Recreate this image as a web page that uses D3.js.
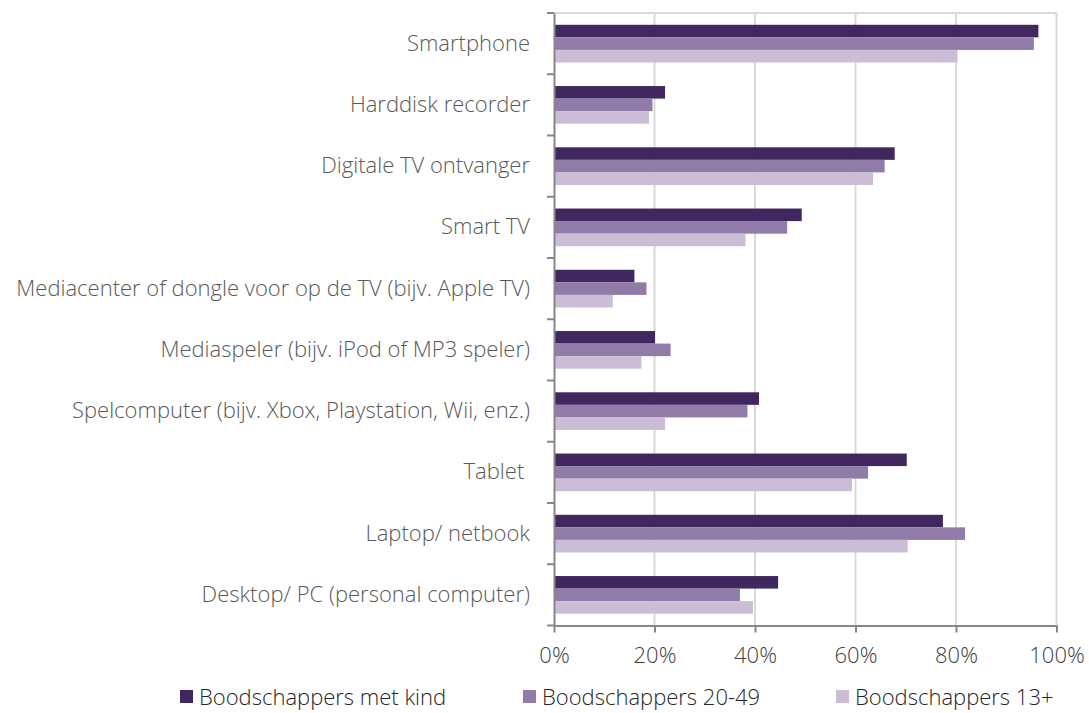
<!DOCTYPE html>
<html><head><meta charset="utf-8">
<script src="https://cdn.jsdelivr.net/npm/d3@7"></script>
<style>
body{margin:0;background:#fff;}
text{font-family:"Open Sans","Noto Sans",sans-serif;font-weight:300;}
</style></head>
<body><svg id="c" width="1089" height="713"></svg>
<script>
const categories = ["Smartphone","Harddisk recorder","Digitale TV ontvanger","Smart TV","Mediacenter of dongle voor op de TV (bijv. Apple TV)","Mediaspeler (bijv. iPod of MP3 speler)","Spelcomputer (bijv. Xbox, Playstation, Wii, enz.)","Tablet ","Laptop/ netbook","Desktop/ PC (personal computer)"];
const seriesNames = ["Boodschappers met kind","Boodschappers 20-49","Boodschappers 13+"];
const metKind = [96.4,22.1,67.8,49.3,16.0,20.1,40.8,70.2,77.4,44.6];
const age2049 = [95.5,19.6,65.8,46.4,18.4,23.2,38.5,62.5,81.8,37.0];
const age13 = [80.3,18.9,63.5,38.1,11.7,17.4,22.1,59.3,70.4,39.6];
const xTicks = [0,20,40,60,80,100];
const colors = ["#40285e","#917ba8","#cbbdd6"];

const series = [metKind, age2049, age13];
const svg = d3.select("#c");
const pL = 554, pR = 1056.5, pT = 13, pB = 625.5;
const x = d3.scaleLinear().domain([0,100]).range([pL,pR]);
const y = d3.scaleBand().domain(categories).range([pT,pB]).paddingInner(0.385).paddingOuter(0.1925);
const y1 = d3.scaleBand().domain(d3.range(3)).range([0,y.bandwidth()]);

// gridlines
svg.append("g").selectAll("line").data(xTicks.slice(1)).join("line")
  .attr("x1",d=>x(d)).attr("x2",d=>x(d)).attr("y1",pT).attr("y2",pB)
  .attr("stroke","#d9d9d9").attr("stroke-width",2);
svg.append("line").attr("x1",pL).attr("x2",pR).attr("y1",pT).attr("y2",pT)
  .attr("stroke","#d9d9d9").attr("stroke-width",2);

// bars
const g = svg.append("g");
categories.forEach((c,i)=>{
  series.forEach((s,j)=>{
    g.append("rect").attr("x",x(0)).attr("y",y(c)+y1(j))
      .attr("width",x(s[i])-x(0)).attr("height",y1.bandwidth())
      .attr("fill",colors[j]);
  });
});

// y axis
const yAxisScale = d3.scaleBand().domain(categories).range([pT,pB]);
const ya = svg.append("g").attr("transform",`translate(${pL},0)`)
  .call(d3.axisLeft(yAxisScale).tickSize(0).tickPadding(24));
ya.select(".domain").attr("stroke","#868686").attr("stroke-width",2);
ya.selectAll("text").attr("font-size",22).attr("fill","#595959").style("white-space","pre");
// category boundary ticks
svg.append("g").selectAll("line").data(d3.range(11)).join("line")
  .attr("x1",pL-7).attr("x2",pL).attr("y1",d=>pT+d*yAxisScale.step()).attr("y2",d=>pT+d*yAxisScale.step())
  .attr("stroke","#868686").attr("stroke-width",2);

// x axis
const xa = svg.append("g").attr("transform",`translate(0,${pB})`)
  .call(d3.axisBottom(x).tickValues(xTicks).tickFormat(d=>d+"%").tickSize(7).tickPadding(15).tickSizeOuter(0));
xa.select(".domain").attr("stroke","#868686").attr("stroke-width",2);
xa.selectAll(".tick line").attr("stroke","#868686").attr("stroke-width",2);
xa.selectAll("text").attr("font-size",22).attr("fill","#404040");

// legend
const legX = [180,523,836];
const leg = svg.append("g");
seriesNames.forEach((n,j)=>{
  leg.append("rect").attr("x",legX[j]).attr("y",690).attr("width",13).attr("height",13).attr("fill",colors[j]);
  leg.append("text").attr("x",legX[j]+19).attr("y",705).attr("font-size",22).attr("fill","#262626").text(n);
});
</script></body></html>
